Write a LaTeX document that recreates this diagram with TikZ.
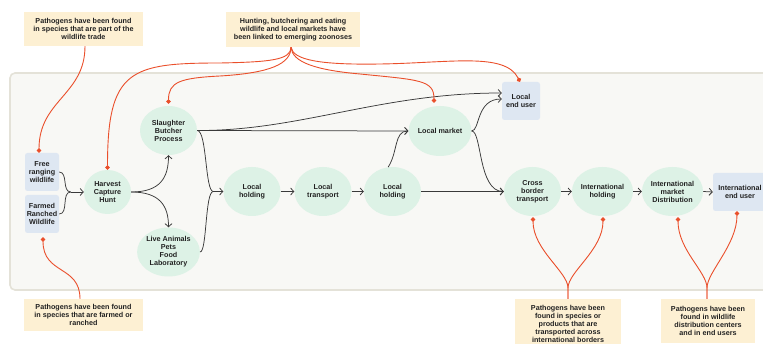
\documentclass[tikz,border=0pt]{standalone}
\usepackage{fontspec}
\setmainfont{Liberation Sans}
\usetikzlibrary{shapes.geometric,arrows.meta,calc}
\definecolor{grn}{HTML}{DDF2E6}
\definecolor{blu}{HTML}{DEE7F2}
\definecolor{cream}{HTML}{FDF0D3}
\definecolor{panel}{HTML}{F8F8F5}
\definecolor{panelbd}{HTML}{E4E2D8}
\definecolor{ink}{HTML}{3A3A3A}
\definecolor{txt}{HTML}{222222}
\definecolor{rd}{HTML}{EA4F2B}
\begin{document}
\begin{tikzpicture}[x=1pt,y=-1pt,
  font=\fontsize{7.2}{8}\selectfont\bfseries,
  every node/.style={text=txt, align=center, inner sep=0pt},
  ell/.style={ellipse, fill=grn, minimum width=57pt, minimum height=49pt},
  box/.style={rectangle, rounded corners=2.5pt, fill=blu, minimum width=34pt, minimum height=38pt},
  note/.style={rectangle, fill=cream, minimum width=119pt},
  arr/.style={draw=ink, line width=0.75pt, -{Straight Barb[length=3.2pt,width=7pt]}},
  link/.style={draw=ink, line width=0.75pt},
  zl/.style={draw=rd, line width=0.9pt, -{Circle[length=4.5pt]}},
]
\useasboundingbox (0,0) rectangle (763,344);
\clip (0,0) rectangle (763,344);
\draw[fill=panel, draw=panelbd, line width=1.6pt, rounded corners=5pt] (10,73) rectangle (790,290);

% nodes
\node[box] (fr) at (42,172) {Free\\ranging\\wildlife};
\node[box] (fw) at (42,214) {Farmed\\Ranched\\Wildlife};
\node[ell, minimum width=47pt, minimum height=44pt] (hv) at (107.5,192) {Harvest\\Capture\\Hunt};
\node[ell] (sl) at (168.5,130.5) {Slaughter\\Butcher\\Process};
\node[ell] (la) at (168.5,252) {Live Animals\\Pets\\Food\\Laboratory};
\node[ell] (lh1) at (252,191.5) {Local\\holding};
\node[ell] (lt) at (323,191.5) {Local\\transport};
\node[ell] (lh2) at (392.5,191.5) {Local\\holding};
\node[ell, minimum width=56pt, minimum height=50pt] (lm) at (440,131) {Local market};
\node[box, minimum width=38pt] (leu) at (521,101) {Local\\end user};
\node[ell] (cb) at (532.5,191.5) {Cross\\border\\transport};
\node[ell] (ih) at (602.5,191.5) {International\\holding};
\node[ell] (im) at (672.5,191.5) {International\\market\\Distribution};
\node[box, minimum width=54pt] (ieu) at (740,192) {International\\end user};

% notes
\node[note, minimum height=34pt] (c1) at (83.5,29) {Pathogens have been found\\in species that are part of the\\wildlife trade};
\node[note, minimum width=134pt, minimum height=35pt] (c2) at (293,29.5) {Hunting, butchering and eating\\wildlife and local markets have\\been linked to emerging zoonoses};
\node[note, minimum height=32pt] (c3) at (83.5,315) {Pathogens have been found\\in species that are farmed or\\ranched};
\node[note, minimum width=106pt, minimum height=50pt] (c4) at (568,324) {Pathogens have been\\found in species or\\products that are\\transported across\\international borders};
\node[note, minimum width=94pt, minimum height=44pt] (c5) at (708,321) {Pathogens have been\\found in wildlife\\distribution centers\\and in end users};

% black connectors
\coordinate (mA) at ($(hv.west)+(-13,0)$);
\draw[link] (fr.east) to[out=0,in=180] (mA);
\draw[link] (fw.east) to[out=0,in=180] (mA);
\draw[arr] (mA) -- (hv.west);
\draw[arr] (hv.east) .. controls (160,192) and (168.5,178) .. (sl.south);
\draw[arr] (hv.east) .. controls (160,192) and (168.5,206) .. (la.north);
\coordinate (mB) at ($(lh1.west)+(-10,0)$);
\draw[link] (sl.east) .. controls (207,130.5) and (205,191.5) .. (mB);
\draw[link] (la.east) .. controls (207,252) and (205,191.5) .. (mB);
\draw[arr] (mB) -- (lh1.west);
\draw[arr] (sl.east) -- (lm.west);
\draw[arr] (sl.east) .. controls (300,131) and (380,93) .. ($(leu.west)+(0,-8)$);
\draw[arr] (lh1.east) -- (lt.west);
\draw[arr] (lt.east) -- (lh2.west);
\draw[arr] (lh2.100) .. controls (398,152) and (394,131) .. (lm.west);
\draw[arr] (lh2.east) -- (cb.west);
\draw[arr] (lm.east) .. controls (480,131) and (476,99) .. ($(leu.west)+(0,-2)$);
\draw[arr] (lm.east) .. controls (482,131) and (478,191.5) .. (cb.west);
\draw[arr] (cb.east) -- (ih.west);
\draw[arr] (ih.east) -- (im.west);
\draw[arr] (im.east) -- (ieu.west);

% red connectors
\draw[zl] ($(c1.south)+(1.5,0)$) .. controls (85,95) and (39,100) .. ($(fr.north)+(-3,0)$);
\draw[zl] ($(c3.north)+(-3.5,0)$) .. controls (80,265) and (43,275) .. ($(fw.south)+(1,4)$);
\draw[zl] ($(c2.south)+(-2,0)$) .. controls (291,60) and (270,62) .. (220,63) .. controls (130,63) and (107.5,70) .. (hv.north);
\draw[zl] ($(c2.south)+(-2,0)$) .. controls (291,64) and (270,73) .. (220,76) .. controls (180,78) and (168.5,82) .. ($(sl.north)+(0,-2)$);
\draw[zl] ($(c2.south)+(-2,0)$) .. controls (292,62) and (315,70) .. (360,74) .. controls (420,80) and (434,80) .. ($(lm.north)+(-6,-3)$);
\draw[zl] ($(c2.south)+(-2,0)$) .. controls (293,60) and (320,65) .. (380,64) .. controls (450,63) and (505,52) .. ($(leu.north)+(-1,0)$);
\draw[zl] (c4.north) -- (568,288) .. controls (568,272) and (533,250) .. ($(cb.south)+(0.5,1)$);
\draw[zl] (c4.north) -- (568,288) .. controls (568,272) and (603,250) .. ($(ih.south)+(0.5,1)$);
\draw[zl] ($(c5.north)+(-1,0)$) -- (707,288) .. controls (707,272) and (678,250) .. ($(im.south)+(5.5,1)$);
\draw[zl] ($(c5.north)+(-1,0)$) -- (707,288) .. controls (707,272) and (737,245) .. ($(ieu.south)+(-3,0)$);
\end{tikzpicture}
\end{document}
